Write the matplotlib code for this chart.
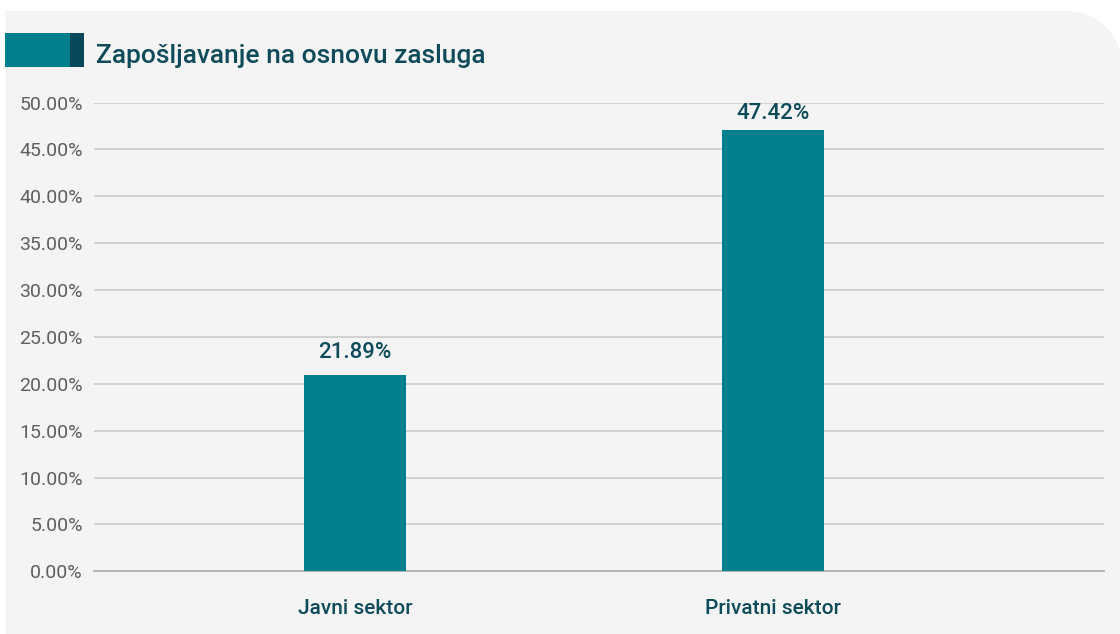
import numpy as np
import matplotlib.pyplot as plt
from matplotlib.patches import Rectangle, Polygon

plt.rcParams['font.family'] = ['Roboto', 'DejaVu Sans']

categories = ['Javni sektor', 'Privatni sektor']
bar_heights = [20.95, 47.1]          # bar tops as drawn in the picture
label_values = [21.89, 47.42]        # values printed above the bars
label_texts = ['21.89%', '47.42%']
yticks = [0, 5, 10, 15, 20, 25, 30, 35, 40, 45, 50]

W, H = 1120, 634
fig = plt.figure(figsize=(W / 100, H / 100), dpi=100)
fig.patch.set_facecolor('white')

# gray panel with rounded top-right corner (pixel outline -> figure fraction)
r = 55
right, top = 1122, H - 11
t = np.linspace(0, np.pi / 2, 30)
arc_x = (right - r) + r * np.cos(t)
arc_y = (top - r) + r * np.sin(t)
xs = np.concatenate([[5, right], arc_x, [5]])
ys = np.concatenate([[-2, -2], arc_y, [top]])
fig.patches.append(Polygon(np.column_stack([xs / W, ys / H]), closed=True,
                           transform=fig.transFigure, facecolor='#f4f4f4',
                           edgecolor='none', zorder=0))

# title marker
fig.patches.append(Rectangle((5 / W, (H - 67) / H), 65 / W, 34 / H, transform=fig.transFigure,
                             facecolor='#027f8c', edgecolor='none', zorder=1))
fig.patches.append(Rectangle((70 / W, (H - 67) / H), 14 / W, 34 / H, transform=fig.transFigure,
                             facecolor='#07495a', edgecolor='none', zorder=1))
fig.text(96 / W, (H - 63) / H, 'Zapošljavanje na osnovu zasluga', fontsize=19,
         color='#0e4b5a', ha='left', va='baseline', fontweight='medium')

ax = fig.add_axes([94 / W, (H - 571.3) / H, 1010 / W, (571.3 - 102.5) / H])
ax.set_zorder(3)
ax.set_facecolor('none')
x = np.arange(len(categories))
ax.bar(x, bar_heights, width=0.244, color='#027f8c', zorder=3)

for xi, v, t in zip(x, label_values, label_texts):
    ax.annotate(t, (xi, v), xytext=(0, 2), textcoords='offset points',
                ha='center', va='bottom', fontsize=16, fontweight='medium', color='#0e4b5a')

ax.set_xlim(-0.624, 1.792)
ax.set_ylim(0, 50)
ax.set_yticks(yticks)
ax.set_yticklabels([f'{v:.2f}%' for v in yticks])
ax.set_xticks(x)
ax.set_xticklabels(categories, fontweight='medium')
ax.tick_params(axis='y', length=0, pad=8, labelsize=14, labelcolor='#5f5f5f')
ax.tick_params(axis='x', length=0, pad=20, labelsize=15, labelcolor='#0e4b5a')
ax.grid(axis='y', color='#cfcfcf', linewidth=1.3, zorder=1)
for s in ['top', 'right', 'left']:
    ax.spines[s].set_visible(False)
ax.spines['bottom'].set_color('#b0b0b0')
ax.spines['bottom'].set_linewidth(1.3)

fig.savefig('out.png', dpi=100, facecolor=fig.get_facecolor())
